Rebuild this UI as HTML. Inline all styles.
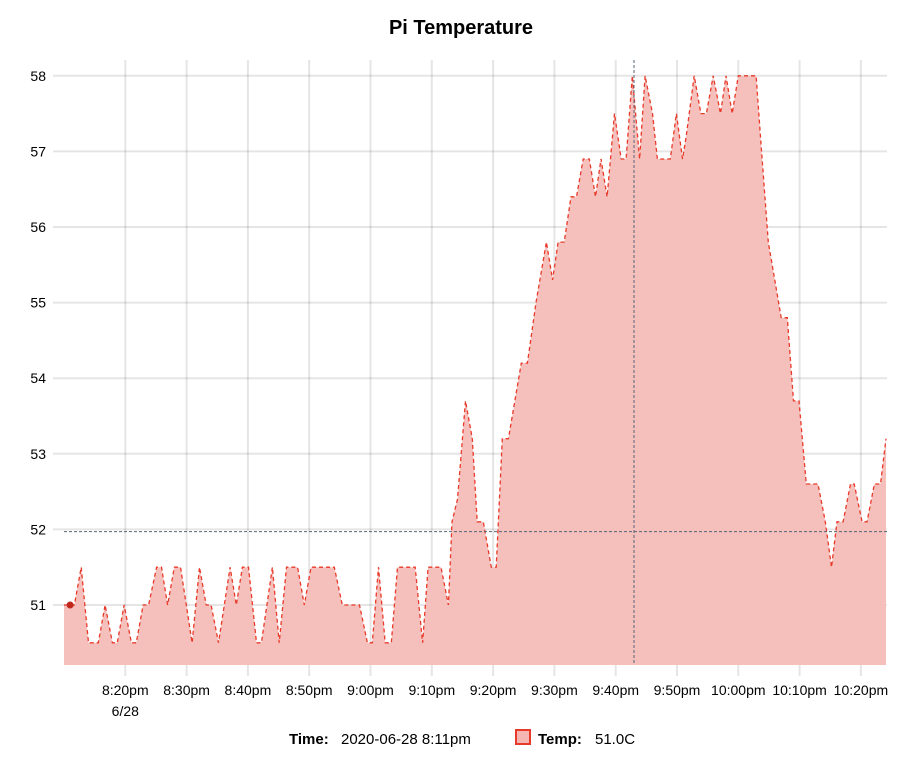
<!DOCTYPE html>
<html><head><meta charset="utf-8"><style>
body{margin:0;background:#fff;font-family:"Liberation Sans",Arial,sans-serif;}
svg text{font-family:"Liberation Sans",Arial,sans-serif;}
</style></head><body>
<svg id="chart" width="917" height="768">
<text x="461" y="34" text-anchor="middle" font-size="20" font-weight="bold" fill="#000">Pi Temperature</text>
<g id="grid"></g><g id="area"></g><g id="axes"></g>
<g>
<text x="289" y="744" font-size="15" font-weight="bold">Time:</text>
<text x="341" y="744" font-size="15">2020-06-28 8:11pm</text>
<rect x="516" y="730" width="14" height="14" fill="#f5b5b0" stroke="#e83a2a" stroke-width="2"/>
<text x="538" y="744" font-size="15" font-weight="bold">Temp:</text>
<text x="595" y="744" font-size="15">51.0C</text>
</g>
</svg>
<script>
// minutes since 8:10pm
const times=[0,1.7,2.8,4,5.6,6.7,7.9,8.7,9.8,11,11.8,12.9,13.8,15.1,15.9,16.9,18,19,20.9,22.1,23.2,24,25.2,27.1,28.1,29.1,30.1,31.4,32.2,34,35.1,36.3,38.1,39.2,40.3,44.1,45.4,48.2,49.5,50.3,51.3,52.4,53.4,54.4,57.3,58.5,59.4,61.5,62.7,63.3,64.2,65.5,66.6,67.4,68.4,69.7,70.5,71.5,72.5,74.6,75.6,77.0,78.7,79.7,80.6,81.6,82.7,83.6,84.7,85.7,86.7,87.6,88.6,89.8,90.9,91.7,92.7,93.9,94.8,96,96.8,98.9,99.9,100.9,101.5,102.8,103.9,104.8,105.9,107.1,108,109,110,112.9,113.7,114.9,117,118,119,119.9,121.1,123,124.2,125.2,126.1,127.1,128.3,128.9,130.2,131,132.2,133.2,134.1];
const temps=[51,51,51.5,50.5,50.5,51,50.5,50.5,51,50.5,50.5,51,51,51.5,51.5,51,51.5,51.5,50.5,51.5,51,51,50.5,51.5,51,51.5,51.5,50.5,50.5,51.5,50.5,51.5,51.5,51,51.5,51.5,51,51,50.5,50.5,51.5,50.5,50.5,51.5,51.5,50.5,51.5,51.5,51,52.1,52.4,53.7,53.2,52.1,52.1,51.5,51.5,53.2,53.2,54.2,54.2,55,55.8,55.3,55.8,55.8,56.4,56.4,56.9,56.9,56.4,56.9,56.4,57.5,56.9,56.9,58,56.9,58,57.5,56.9,56.9,57.5,56.9,57.2,58,57.5,57.5,58,57.5,58,57.5,58,58,57.1,55.8,54.8,54.8,53.7,53.7,52.6,52.6,52.1,51.5,52.1,52.1,52.6,52.6,52.1,52.1,52.6,52.6,53.2];
const yTicks=[51,52,53,54,55,56,57,58];
const xTickMins=[10,20,30,40,50,60,70,80,90,100,110,120,130];
const xTickLabels=["8:20pm","8:30pm","8:40pm","8:50pm","9:00pm","9:10pm","9:20pm","9:30pm","9:40pm","9:50pm","10:00pm","10:10pm","10:20pm"];
const L=64,R=887,T=60,B=665;
function X(m){return 64+m*6.13;}
function Y(v){return 605-(v-51)*75.6;}
const NS="http://www.w3.org/2000/svg";
function mk(t,a,p){const e=document.createElementNS(NS,t);for(const k in a)e.setAttribute(k,a[k]);p.appendChild(e);return e;}
const grid=document.getElementById('grid'),area=document.getElementById('area'),axes=document.getElementById('axes');
yTicks.forEach(v=>{
 const l=mk('line',{x1:53,x2:R,y1:Y(v),y2:Y(v),stroke:'#000','stroke-opacity':0.1,'stroke-width':2},grid);
 
 
 const t=mk('text',{x:46,y:Y(v)+5,'text-anchor':'end','font-size':14,fill:'#000'},axes);
 t.textContent=v;
 
 
});
xTickMins.forEach((m,i)=>{
 const l=mk('line',{x1:X(m),x2:X(m),y1:T,y2:676,stroke:'#000','stroke-opacity':0.1,'stroke-width':2},grid);
 
 
 const t=mk('text',{x:X(m),y:695,'text-anchor':'middle','font-size':14,fill:'#000'},axes);
 t.textContent=xTickLabels[i];
 
 
});
const d2=mk('text',{x:X(10),y:716,'text-anchor':'middle','font-size':14,fill:'#000'},axes);
d2.textContent='6/28';


let pts=times.map((m,i)=>X(m).toFixed(1)+','+Y(temps[i]).toFixed(1));
const fill=mk('polygon',{points:X(times[0])+','+B+' '+pts.join(' ')+' '+X(times[times.length-1])+','+B,fill:'#f5bfbc'},area);


const line=mk('polyline',{points:pts.join(' '),fill:'none',stroke:'#e83a2a','stroke-width':1.3,'stroke-dasharray':'4,3'},area);


const ch=mk('line',{x1:L,x2:R,y1:Y(51.97),y2:Y(51.97),stroke:'#556677','stroke-width':1,'stroke-dasharray':'3,2'},area);


const cv=mk('line',{x1:634,x2:634,y1:T,y2:B,stroke:'#556677','stroke-width':1,'stroke-dasharray':'3,2'},area);


const dot=mk('circle',{cx:X(1),cy:Y(51),r:3.5,fill:'#c0281c'},area);


</script>
</body></html>
